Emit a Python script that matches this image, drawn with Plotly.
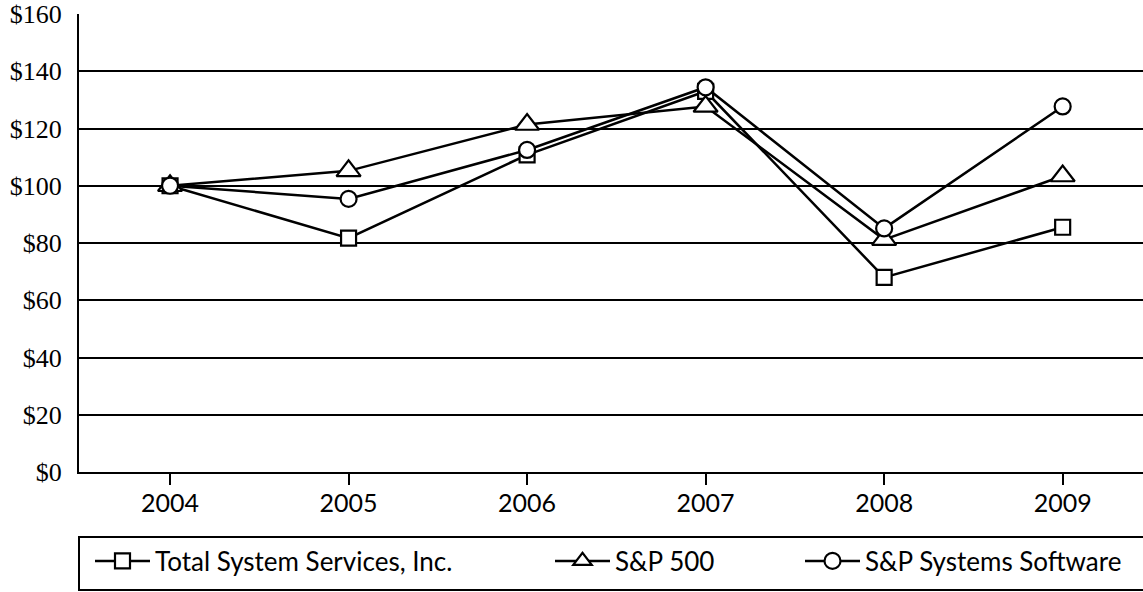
import plotly.graph_objects as go

years = [2004, 2005, 2006, 2007, 2008, 2009]
tss = [100, 81.7, 110.8, 133.0, 68.0, 85.5]
sp500 = [100, 105.2, 121.4, 127.7, 81.2, 103.4]
spsw = [100, 95.4, 112.5, 134.4, 85.1, 127.7]
names = ["Total System Services, Inc.", "S&P 500", "S&P Systems Software"]
y_ticks = [0, 20, 40, 60, 80, 100, 120, 140, 160]
y_labels = ["$" + str(v) for v in y_ticks]

W, H = 1143, 592
ML, MR, MT, MB = 79, 0, 14, 120
PW, PH = W - ML - MR, H - MT - MB

def px_x(p):
    return (p - ML) / PW

def px_y(p):
    return (H - MB - p) / PH

fig = go.Figure()
series = [(tss, "square", 15, "legend"), (sp500, "triangle-up", 21, "legend2"), (spsw, "circle", 16, "legend3")]
for (vals, sym, sz, lg), nm in zip(series, names):
    fig.add_trace(go.Scatter(
        x=years, y=vals, name=nm, mode="lines+markers",
        line=dict(color="black", width=2.5),
        marker=dict(symbol=sym, size=sz, color="white",
                    line=dict(color="black", width=2.2)),
        legend=lg,
    ))

legfont = dict(family="Lato, 'Open Sans', sans-serif", size=26, color="black")
legy = px_y(561)
common = dict(orientation="h", y=legy, yanchor="middle", xanchor="left",
              bgcolor="rgba(0,0,0,0)", borderwidth=0, font=legfont, itemwidth=55)

fig.update_layout(
    width=W, height=H,
    margin=dict(l=ML, r=MR, t=MT, b=MB),
    paper_bgcolor="white", plot_bgcolor="white",
    showlegend=True,
    legend=dict(x=px_x(90), **common),
    legend2=dict(x=px_x(550), **common),
    legend3=dict(x=px_x(800), **common),
    xaxis=dict(
        range=[2003.49, 2009.45], tickvals=years, ticktext=[str(y) for y in years],
        showgrid=False, zeroline=False, showline=True, linecolor="black", linewidth=2,
        ticks="outside", ticklen=11, tickwidth=2, tickcolor="black",
        tickfont=dict(family="Lato, 'Open Sans', sans-serif", size=25, color="black"),
        ticklabelstandoff=-3, automargin=False,
    ),
    yaxis=dict(
        range=[0, 160], tickvals=y_ticks, ticktext=y_labels,
        showgrid=True, gridcolor="black", gridwidth=2,
        zeroline=False, showline=True, linecolor="black", linewidth=2,
        ticks="", ticklabelstandoff=10, automargin=False,
        tickfont=dict(family="'Liberation Serif', 'Times New Roman', serif", size=26, color="black"),
    ),
    shapes=[dict(type="rect", xref="paper", yref="paper",
                 x0=0, x1=1.05, y0=px_y(590), y1=px_y(537),
                 line=dict(color="black", width=2), fillcolor="rgba(0,0,0,0)")],
)

fig.write_html("out.html", config={"displayModeBar": False},
               post_script="document.body.style.margin='0';document.body.style.padding='0';")
